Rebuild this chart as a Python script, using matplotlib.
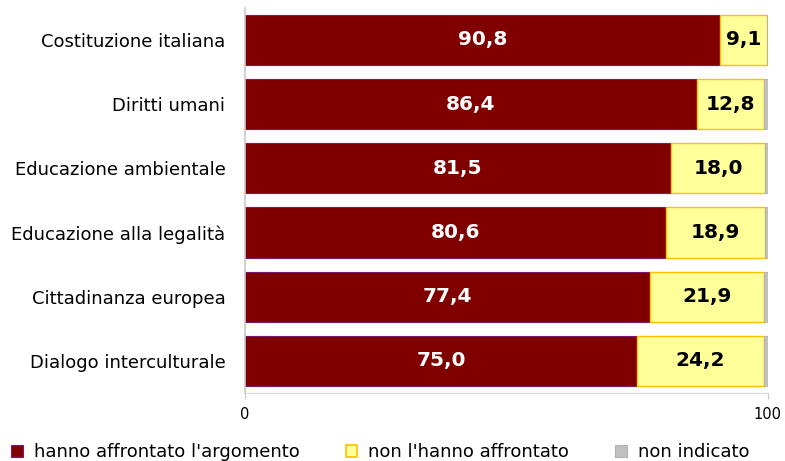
import matplotlib
matplotlib.use("Agg")
import matplotlib.pyplot as plt
from matplotlib.patches import Patch

categories = [
    "Costituzione italiana",
    "Diritti umani",
    "Educazione ambientale",
    "Educazione alla legalità",
    "Cittadinanza europea",
    "Dialogo interculturale",
]
affrontato = [90.8, 86.4, 81.5, 80.6, 77.4, 75.0]
non_affrontato = [9.1, 12.8, 18.0, 18.9, 21.9, 24.2]
non_indicato = [0.1, 0.8, 0.5, 0.5, 0.7, 0.8]
series_names = ["hanno affrontato l'argomento", "non l'hanno affrontato", "non indicato"]
x_ticks = [0, 100]

plt.rcParams["font.family"] = ["DejaVu Sans"]

fig = plt.figure(figsize=(7.85, 4.61), dpi=100)
ax = fig.add_axes([0.312, 0.1475, 0.666, 0.8355])

y = list(range(len(categories)))
h = 0.78
red, yellow, grey = "#800000", "#FFFF99", "#C0C0C0"

ax.barh(y, affrontato, height=h, color=red, edgecolor="#7A1A6E", linewidth=0.8)
ax.barh(y, non_affrontato, left=affrontato, height=h, color=yellow,
        edgecolor="#FFC000", linewidth=1.0)
left3 = [a + b for a, b in zip(affrontato, non_affrontato)]
ax.barh(y, non_indicato, left=left3, height=h, color=grey,
        edgecolor="#B0B0B0", linewidth=0.6)

def fmt(v):
    return f"{v:.1f}".replace(".", ",")

for yi, a, n in zip(y, affrontato, non_affrontato):
    ax.text(a / 2, yi, fmt(a), ha="center", va="center", color="white",
            fontsize=14.5, fontweight="bold")
    ax.text(a + n / 2, yi, fmt(n), ha="center", va="center", color="black",
            fontsize=14.5, fontweight="bold")

ax.set_xlim(0, 100)
ax.set_ylim(len(categories) - 0.5, -0.5)
ax.set_yticks(y)
ax.set_yticklabels(categories, fontsize=13)
ax.set_xticks(x_ticks)
ax.set_xticklabels([str(t) for t in x_ticks], fontsize=10.5)
ax.tick_params(axis="y", length=0, pad=14)
ax.tick_params(axis="x", length=4, color="#C8C8C8", pad=6)

for s in ["top", "right"]:
    ax.spines[s].set_visible(False)
ax.spines["left"].set_color("#C8C8C8")
ax.spines["bottom"].set_color("#D8D8D8")
ax.spines["left"].set_linewidth(1.2)

handles = [
    Patch(facecolor=red, edgecolor="#7A1A6E", linewidth=0.8),
    Patch(facecolor=yellow, edgecolor="#FFC000", linewidth=1.2),
    Patch(facecolor=grey, edgecolor="#B0B0B0", linewidth=0.8),
]
fig.legend(handles, series_names, loc="lower left", bbox_to_anchor=(-0.0065, -0.035),
           ncol=3, frameon=False, fontsize=13, handlelength=0.65, handleheight=0.65,
           handletextpad=0.6, columnspacing=2.55)

fig.savefig("out.png", dpi=100)
